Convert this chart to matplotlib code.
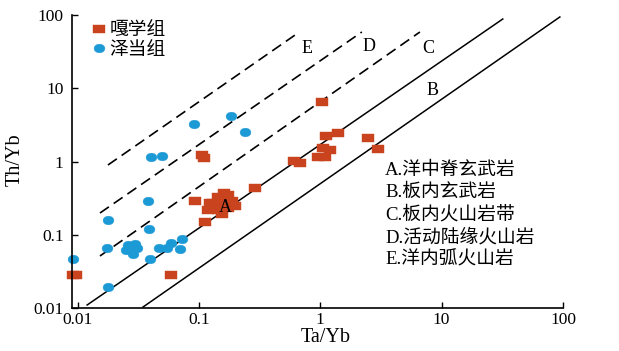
"""Ta/Yb - Th/Yb discrimination diagram."""

import matplotlib
matplotlib.use("Agg")
import matplotlib.pyplot as plt
from matplotlib.path import Path
from matplotlib.transforms import Affine2D

SERIF = ["Liberation Serif", "DejaVu Serif"]
MIXED = ["Liberation Serif", "Noto Sans CJK SC", "DejaVu Sans"]

# 嘎学组 samples (Ta/Yb, Th/Yb)
gaxue_x = [0.0091, 0.0098, 0.0588, 0.1059, 0.110, 0.0927, 0.1121, 0.2893,
           0.6065, 0.679, 1.031, 1.112, 1.397, 2.467, 2.983, 1.051, 1.200,
           0.956, 1.091,
           0.1232, 0.1434, 0.1734, 0.1871, 0.1187, 0.1434, 0.1734, 0.198,
           0.1547, 0.1304, 0.1547, 0.1607]
gaxue_y = [0.0282, 0.0282, 0.0282, 1.227, 1.116, 0.289, 0.149, 0.4345,
           1.016, 0.954, 6.49, 2.229, 2.449, 2.094, 1.481, 1.529, 1.435,
           1.152, 1.152,
           0.2713, 0.3276, 0.3489, 0.289, 0.2177, 0.2177, 0.2318, 0.2468,
           0.192, 0.2713, 0.280, 0.3715]

# 泽当组 samples
zedang_x = [0.0910, 0.1835, 0.2393, 0.0402, 0.0496, 0.0380, 0.0178, 0.0388,
            0.01747, 0.0260, 0.0297, 0.0281, 0.0309, 0.0286, 0.0251, 0.0469,
            0.0545, 0.0588, 0.0725, 0.0698, 0.0395, 0.00917, 0.0178]
zedang_y = [3.25, 4.18, 2.527, 1.152, 1.189, 0.289, 0.159, 0.1198,
            0.0659, 0.0725, 0.0747, 0.0619, 0.0659, 0.0546, 0.0619, 0.0659,
            0.0659, 0.0772, 0.0875, 0.0639, 0.0467, 0.0467, 0.01935]

# boundary lines, end points
solid_x = [[0.0120, 31.9], [0.0346, 94.2]]
solid_y = [[0.0110, 88.2], [0.0103, 94.0]]
dashed_x = [[0.0153, 6.62], [0.0153, 2.20], [0.0178, 0.655]]
dashed_y = [[0.0513, 58.6], [0.198, 58.6], [0.896, 56.8]]

# field letters
field_letters = ["A", "B", "C", "D", "E"]
field_x = [0.1637, 8.47, 7.70, 2.51, 0.776]
field_y = [0.232, 9.46, 35.4, 36.6, 35.4]

field_names = ["A.洋中脊玄武岩", "B.板内玄武岩", "C.板内火山岩带",
               "D.活动陆缘火山岩", "E.洋内弧火山岩"]

ticks = [0.01, 0.1, 1, 10, 100]
tick_labels = ["0.01", "0.1", "1", "10", "100"]

RED = "#C9441E"
BLUE = "#1C9AD6"

rect = Path([(-1, -0.64), (1, -0.64), (1, 0.64), (-1, 0.64), (-1, -0.64)],
            [Path.MOVETO, Path.LINETO, Path.LINETO, Path.LINETO, Path.CLOSEPOLY])
ellipse = Affine2D().scale(1, 0.8).transform_path(Path.unit_circle())

fig = plt.figure(figsize=(6.19, 3.51), dpi=100)
ax = fig.add_axes([72 / 619, 43 / 351, 491 / 619, 293 / 351])
ax.set_xscale("log")
ax.set_yscale("log")
ax.set_xlim(0.009, 100)
ax.set_ylim(0.01, 100)

for xs, ys in zip(solid_x, solid_y):
    ax.plot(xs, ys, color="black", lw=1.1)
for xs, ys in zip(dashed_x, dashed_y):
    ax.plot(xs, ys, color="black", lw=1.2, dashes=(6.5, 3.5))

ax.plot(gaxue_x, gaxue_y, ls="none", marker=rect, ms=8.4, color=RED,
        mec=RED, mew=0.3, label="嘎学组", clip_on=False)
ax.plot(zedang_x, zedang_y, ls="none", marker=ellipse, ms=7.8, color=BLUE,
        mec=BLUE, mew=0.3, label="泽当组", clip_on=False)

for s, x, y in zip(field_letters, field_x, field_y):
    ax.text(x, y, s, family=SERIF, fontsize=13, ha="center", va="center")

for i, name in enumerate(field_names):
    ax.text(0.6375, 0.471 - i * 0.0768, name, transform=ax.transAxes,
            family=MIXED, fontsize=13.5, ha="left", va="center")

leg = ax.legend(loc="upper left", bbox_to_anchor=(0.015, 1.02), frameon=False,
                handlelength=0.7, handletextpad=0.2, labelspacing=0.12,
                borderaxespad=0.3, prop={"family": MIXED, "size": 13.5})

ax.spines["top"].set_visible(False)
ax.spines["right"].set_visible(False)
for side in ("left", "bottom"):
    ax.spines[side].set_linewidth(1.2)

ax.set_xticks(ticks)
ax.set_xticklabels(tick_labels)
ax.set_yticks(ticks)
ax.set_yticklabels(tick_labels)
ax.minorticks_off()
ax.tick_params(direction="in", length=4, width=1.0, labelsize=12.5)
ax.tick_params(axis="x", pad=3)
ax.tick_params(axis="y", pad=6)
for lab in ax.get_xticklabels() + ax.get_yticklabels():
    lab.set_family(SERIF)

fig.text(326 / 619, 1 - 337 / 351, "Ta/Yb", family=SERIF, fontsize=14.5,
         ha="center", va="center")
fig.text(15 / 619, 1 - 160 / 351, "Th/Yb", family=SERIF, fontsize=14.5,
         ha="center", va="center", rotation=90)

fig.savefig("out.png", dpi=100)
